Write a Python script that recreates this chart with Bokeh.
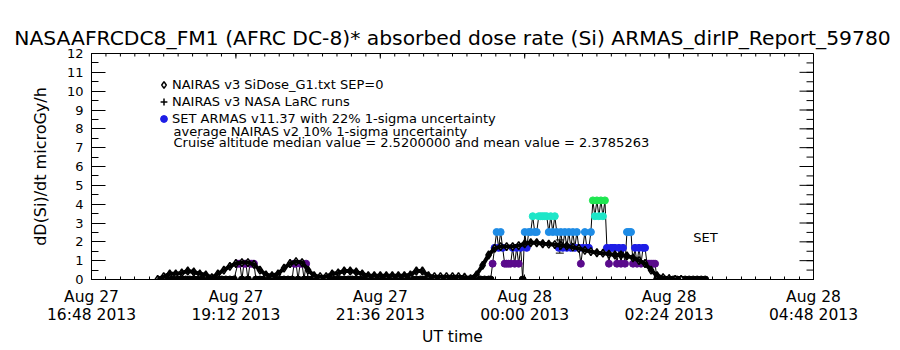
import numpy as np
from bokeh.plotting import figure
from bokeh.models import (FixedTicker, Range1d, Legend, LegendItem, Label,
                          ColumnDataSource, Whisker, TeeHead)
from bokeh.embed import file_html
from bokeh.resources import INLINE

# ---------------- data ----------------
title_text = "NASAAFRCDC8_FM1 (AFRC DC-8)* absorbed dose rate (Si) ARMAS_dirIP_Report_59780"
x_tick_hours = [0.0, 2.4, 4.8, 7.2, 9.6, 12.0]   # hours after Aug 27 16:48 UT
x_tick_labels = ["Aug 27\n16:48 2013", "Aug 27\n19:12 2013", "Aug 27\n21:36 2013",
                 "Aug 28\n00:00 2013", "Aug 28\n02:24 2013", "Aug 28\n04:48 2013"]
x_minor_step = 0.24
y_ticks = list(range(13))
y_minor_step = 0.5

# NAIRAS v3 SiDose (minutes after 16:48, 6-minute samples)
nairas_min = list(range(66, 594, 6))
nairas_val = [0.0, 0.15, 0.3, 0.3, 0.35, 0.45, 0.4, 0.3, 0.25, 0.1,
              0.3, 0.5, 0.7, 0.85, 0.9, 0.9, 0.8, 0.5, 0.25, 0.2,
              0.3, 0.6, 0.85, 0.95, 0.9, 0.5, 0.2, 0.15, 0.15, 0.3,
              0.35, 0.45, 0.45, 0.4, 0.3, 0.2, 0.2, 0.2, 0.2, 0.2,
              0.2, 0.2, 0.25, 0.45, 0.45, 0.2, 0.15, 0.15, 0.15, 0.15,
              0.15, 0.12, 0.05, 0.25, 0.75, 1.3, 1.65, 1.75, 1.75, 1.75,
              1.8, 1.9, 1.95, 1.95, 1.9, 1.88, 1.85, 1.82, 1.78, 1.72,
              1.65, 1.55, 1.48, 1.42, 1.4, 1.35, 1.3, 1.3, 1.25, 1.15,
              1.0, 0.85, 0.5, 0.2, 0.1, 0.05, 0.0, 0.0]

# NAIRAS v3 NASA LaRC run
larc_min = [467]
larc_val = [1.75]
larc_lo = [1.4]
larc_hi = [2.1]

# SET ARMAS (minutes after 16:48, dose rate)
armas_min_a = [70, 74, 78, 82, 86, 90, 94, 98, 102, 106, 110, 114, 118, 122, 126, 130, 134, 138, 142,
               146, 148, 150, 152, 154, 156, 158, 160, 162, 164,
               168, 172, 176, 180, 184, 188, 192, 196, 200,
               202, 204, 206, 208, 210, 212, 214, 216]
armas_val_a = [0, 0, 0, 0, 0, 0, 0, 0, 0, 0, 0, 0, 0, 0, 0, 0, 0, 0, 0,
               0.84, 0.84, 0, 0.84, 0.84, 0, 0.84, 0.84, 0.84, 0,
               0, 0, 0, 0, 0, 0, 0, 0, 0,
               0.84, 0.84, 0, 0.84, 0.84, 0, 0.84, 0]
armas_min_b = [220, 224, 228, 232, 236, 240, 244, 248, 252, 256, 260, 264, 268, 272, 276,
               280, 284, 288, 292, 296, 300, 304, 308, 312, 316, 320, 324, 328, 332, 336,
               340, 344, 348, 352, 356, 360, 364, 368, 372, 376, 380, 384, 388, 392, 396]
armas_val_b = [0, 0, 0, 0, 0, 0, 0, 0, 0, 0, 0, 0, 0, 0, 0,
               0, 0, 0, 0, 0, 0, 0, 0, 0, 0, 0, 0, 0, 0, 0,
               0, 0, 0, 0, 0, 0, 0, 0, 0, 0, 0, 0, 0, 0, 0]
armas_min_c = list(range(398, 566, 2))
armas_val_c = [0, 0.84, 1.68, 2.52, 1.68, 2.52, 1.68, 0.84, 0.84, 0.84,
               0.84, 1.68, 0.84, 1.68, 0.84, 1.68, 0, 2.52, 1.68, 2.52,
               2.52, 3.36, 2.52, 2.52, 3.36, 3.36, 3.36, 3.36, 3.36, 2.52,
               3.36, 2.52, 3.36, 2.52, 1.68, 2.52, 1.68, 2.52, 1.68, 2.52,
               1.68, 2.52, 1.68, 2.52, 1.68, 0.84, 1.68, 2.52, 1.68, 1.68,
               2.52, 4.2, 3.36, 4.2, 3.36, 4.2, 3.36, 4.2, 1.68, 0.84,
               1.68, 1.68, 1.68, 0.84, 1.68, 0.84, 1.68, 0.84, 2.52, 2.52,
               2.52, 0.84, 1.68, 0.84, 1.68, 0.84, 1.68, 1.68, 0.84, 0.84,
               0.84, 0.84, 0.84, 0]
armas_min_d = [568, 572, 576, 580, 584, 588, 592, 596, 600, 604, 608, 612]
armas_val_d = [0, 0, 0, 0, 0, 0, 0, 0, 0, 0, 0, 0]

armas_step = 0.84
median_val = "2.5200000"
mean_val = "2.3785263"

# ---------------- styles ----------------
FONT = "DejaVu Sans"
level_colors = ["#000000", "#5a0a8c", "#1e1ee6", "#1e8ce6", "#1ee6c8", "#1ee650"]
X0, X1, Y0, Y1 = 0.0, 12.0, 0.0, 12.0
FRAME_W, FRAME_H = 722, 226

armas_min = armas_min_a + armas_min_b + armas_min_c + armas_min_d
armas_val = armas_val_a + armas_val_b + armas_val_c + armas_val_d
armas_h = [m / 60.0 for m in armas_min]
armas_col = [level_colors[min(int(round(v / armas_step)), len(level_colors) - 1)] for v in armas_val]

p = figure(width=900, height=350, output_backend="svg", toolbar_location=None,
           x_range=Range1d(X0, X1), y_range=Range1d(Y0, Y1),
           min_border_left=91, min_border_right=87, min_border_top=53, min_border_bottom=71,
           title=title_text)
p.title.text_font = FONT
p.title.text_font_size = "20.3px"
p.title.text_font_style = "normal"
p.title.align = "center"
p.title.text_color = "black"
p.title.standoff = 8
p.grid.visible = False
p.outline_line_color = "black"
p.outline_line_width = 1
p.background_fill_color = "white"
p.border_fill_color = "white"

x_minor = [round(x_minor_step * k, 4) for k in range(int(round((X1 - X0) / x_minor_step)) + 1)]
y_minor = [y_minor_step * k for k in range(int(round((Y1 - Y0) / y_minor_step)) + 1)]
xticker = FixedTicker(ticks=x_tick_hours, minor_ticks=x_minor)
yticker = FixedTicker(ticks=y_ticks, minor_ticks=y_minor)

def style_axis(ax, major_in, minor_in):
    ax.major_tick_in = major_in
    ax.major_tick_out = 0
    ax.minor_tick_in = minor_in
    ax.minor_tick_out = 0
    ax.axis_line_color = "black"
    ax.major_tick_line_color = "black"
    ax.minor_tick_line_color = "black"
    ax.major_label_text_color = "black"
    ax.major_label_text_font = FONT
    ax.axis_label_text_font = FONT
    ax.axis_label_text_font_style = "normal"
    ax.axis_label_text_color = "black"

XT_MAJ, XT_MIN, YT_MAJ, YT_MIN = 5, 3, 14, 7

xax = p.xaxis[0]
xax.ticker = xticker
xax.major_label_overrides = {t: l for t, l in zip(x_tick_hours, x_tick_labels)}
style_axis(xax, XT_MAJ, XT_MIN)
xax.major_label_text_font_size = "15.5px"
xax.major_label_text_line_height = 1.0
xax.major_label_standoff = 8
xax.axis_label = "UT time"
xax.axis_label_text_font_size = "15.5px"
xax.axis_label_standoff = 1

yax = p.yaxis[0]
yax.ticker = yticker
style_axis(yax, YT_MAJ, YT_MIN)
yax.major_label_text_font_size = "13px"
yax.major_label_standoff = 8
yax.axis_label = "dD(Si)/dt microGy/h"
yax.axis_label_text_font_size = "16px"
yax.axis_label_standoff = 14

# top and right tick marks (box style), drawn from the same tick lists
dy_maj = XT_MAJ * (Y1 - Y0) / FRAME_H
dy_min = XT_MIN * (Y1 - Y0) / FRAME_H
dx_maj = YT_MAJ * (X1 - X0) / FRAME_W
dx_min = YT_MIN * (X1 - X0) / FRAME_W
p.segment(x0=x_minor, y0=[Y1] * len(x_minor), x1=x_minor, y1=[Y1 - dy_min] * len(x_minor),
          line_color="black", line_width=1)
p.segment(x0=x_tick_hours, y0=[Y1] * len(x_tick_hours), x1=x_tick_hours,
          y1=[Y1 - dy_maj] * len(x_tick_hours), line_color="black", line_width=1)
p.segment(x0=[X1] * len(y_minor), y0=y_minor, x1=[X1 - dx_min] * len(y_minor), y1=y_minor,
          line_color="black", line_width=1)
p.segment(x0=[X1] * len(y_ticks), y0=y_ticks, x1=[X1 - dx_maj] * len(y_ticks), y1=y_ticks,
          line_color="black", line_width=1)

# ARMAS connecting line and dots
src_a = ColumnDataSource(dict(x=armas_h, y=armas_val, c=armas_col))
p.line("x", "y", source=src_a, line_color="black", line_width=1)
r_armas = p.scatter("x", "y", source=src_a, marker="circle", size=7, fill_color="c", line_color="c")

# NAIRAS curve: open diamonds, connecting thick line on top
src_n = ColumnDataSource(dict(x=[m / 60.0 for m in nairas_min], y=nairas_val))
r_diam = p.scatter("x", "y", source=src_n, marker="diamond", size=8,
                   fill_color="white", line_color="black", line_width=1.5)
p.line("x", "y", source=src_n, line_color="black", line_width=4)

# LaRC run
src_l = ColumnDataSource(dict(x=[m / 60.0 for m in larc_min], y=larc_val, lo=larc_lo, hi=larc_hi))
p.add_layout(Whisker(base="x", lower="lo", upper="hi", source=src_l, line_color="black",
                     upper_head=TeeHead(size=8, line_color="black"),
                     lower_head=TeeHead(size=8, line_color="black")))
r_plus = p.scatter("x", "y", source=src_l, marker="cross", size=7, line_color="black", line_width=1.5)

blue_index = armas_val.index(2 * armas_step)

legend = Legend(items=[
    LegendItem(label="NAIRAS v3 SiDose_G1.txt SEP=0", renderers=[r_diam]),
    LegendItem(label="NAIRAS v3 NASA LaRC runs", renderers=[r_plus]),
    LegendItem(label="SET ARMAS v11.37 with 22% 1-sigma uncertainty", renderers=[r_armas],
               index=blue_index),
], location=(64, 152), border_line_color=None, background_fill_alpha=0,
    padding=0, margin=0, spacing=0, glyph_width=17, glyph_height=17, label_height=17,
    label_standoff=0, label_text_font=FONT, label_text_font_size="13px", label_text_color="black")
p.add_layout(legend)

for txt, ty in [("average NAIRAS v2 10% 1-sigma uncertainty", 7.86),
                ("Cruise altitude median value = " + median_val + " and mean value = " + mean_val, 7.28)]:
    p.add_layout(Label(x=1.363, y=ty, text=txt, text_font=FONT, text_font_size="13px",
                       text_baseline="middle", text_align="left", text_color="black"))

p.add_layout(Label(x=10.0, y=2.23, text="SET", text_font=FONT, text_font_size="13px",
                   text_baseline="middle", text_align="left", text_color="black"))

open("out.html", "w").write(file_html(p, INLINE))
